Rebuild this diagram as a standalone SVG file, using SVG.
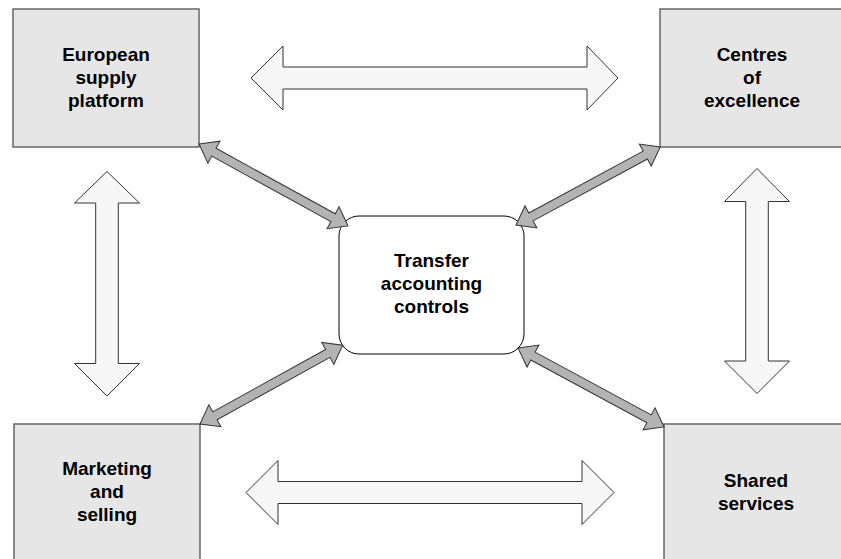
<svg xmlns="http://www.w3.org/2000/svg" width="841" height="559" viewBox="0 0 841 559">
<style>
.box{fill:#e6e6e6;stroke:#666;stroke-width:1.5}
.center{fill:#fff;stroke:#000;stroke-width:1}
.big{fill:#f7f7f7;stroke:#333;stroke-width:1}
.diag{fill:#b3b3b3;stroke:#333;stroke-width:1}
text{font-family:"Liberation Sans",Arial,sans-serif;font-weight:bold;font-size:19px;fill:#000;text-anchor:middle}
</style>
<rect width="841" height="559" fill="#fff"/>
<g id="european">
<rect class="box" x="13" y="9" width="186" height="138"/>
<text x="106" y="61">European</text>
<text x="106" y="84">supply</text>
<text x="106" y="107">platform</text>
</g>
<g id="centres">
<rect class="box" x="660" y="9" width="200" height="138"/>
<text x="752" y="61">Centres</text>
<text x="752" y="84">of</text>
<text x="752" y="107">excellence</text>
</g>
<g id="marketing">
<rect class="box" x="14" y="424" width="186" height="150"/>
<text x="107" y="475">Marketing</text>
<text x="107" y="498">and</text>
<text x="107" y="521">selling</text>
</g>
<g id="shared">
<rect class="box" x="664" y="424" width="200" height="150"/>
<text x="756" y="487">Shared</text>
<text x="756" y="510">services</text>
</g>
<g id="transfer">
<rect class="center" x="339" y="216" width="185" height="138" rx="20" ry="20"/>
<text x="431.5" y="267">Transfer</text>
<text x="431.5" y="290">accounting</text>
<text x="431.5" y="313">controls</text>
</g>
<g id="connectors">
<path class="big" d="M251,78 L283,46 L283,67 L587,67 L587,46 L618,78 L587,110 L587,89 L283,89 L283,110 Z"/>
<path class="big" d="M246,492.5 L278,460.5 L278,481.5 L582,481.5 L582,460.5 L614,492.5 L582,524.5 L582,503.5 L278,503.5 L278,524.5 Z"/>
<path class="big" d="M107,171.5 L139.5,203 L118.3,203 L118.3,363.5 L139.5,363.5 L107,396 L74.5,363.5 L95.7,363.5 L95.7,203 L74.5,203 Z"/>
<path class="big" d="M757,168.5 L789.5,201.5 L768.3,201.5 L768.3,361 L789.5,361 L757,393.5 L724.5,361 L745.7,361 L745.7,201.5 L724.5,201.5 Z"/>
<path class="diag" transform="translate(199,144) rotate(28.8)" d="M0,0 L17,-12.5 L17,-4.5 L153,-4.5 L153,-12.5 L170,0 L153,12.5 L153,4.5 L17,4.5 L17,12.5 Z"/>
<path class="diag" transform="translate(516,225) rotate(-28.4)" d="M0,0 L17,-12.5 L17,-4.5 L147,-4.5 L147,-12.5 L164,0 L147,12.5 L147,4.5 L17,4.5 L17,12.5 Z"/>
<path class="diag" transform="translate(200,424) rotate(-28.9)" d="M0,0 L17,-12.5 L17,-4.5 L146,-4.5 L146,-12.5 L163,0 L146,12.5 L146,4.5 L17,4.5 L17,12.5 Z"/>
<path class="diag" transform="translate(518,348) rotate(28.4)" d="M0,0 L17,-12.5 L17,-4.5 L149,-4.5 L149,-12.5 L166,0 L149,12.5 L149,4.5 L17,4.5 L17,12.5 Z"/>
</g>
</svg>
